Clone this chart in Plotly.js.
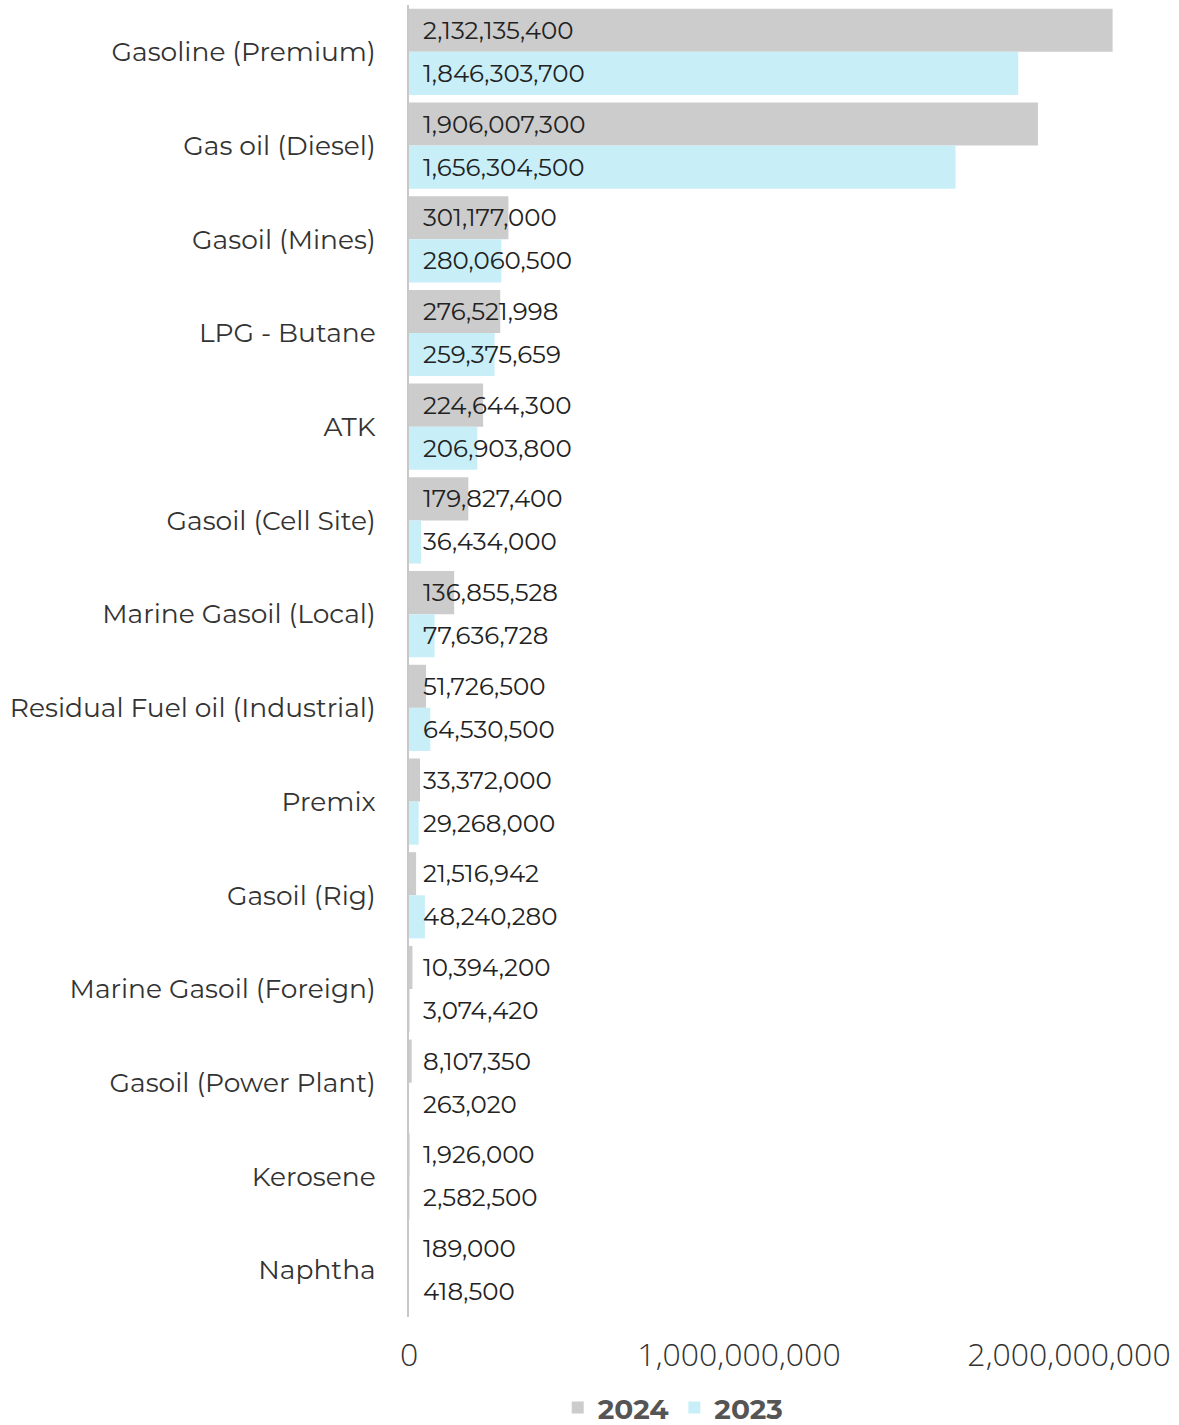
<!DOCTYPE html>
<html><head><meta charset="utf-8">
<script src="https://cdn.plot.ly/plotly-3.0.1.min.js"></script>
<style>html,body{margin:0;padding:0;background:#fff}#chart{width:1179px;height:1425px}</style>
</head><body><div id="chart"></div>
<script>
const categories = ["Gasoline (Premium)","Gas oil (Diesel)","Gasoil (Mines)","LPG - Butane","ATK","Gasoil (Cell Site)","Marine Gasoil (Local)","Residual Fuel oil (Industrial)","Premix","Gasoil (Rig)","Marine Gasoil (Foreign)","Gasoil (Power Plant)","Kerosene","Naphtha"];
const values2024 = [2132135400,1906007300,301177000,276521998,224644300,179827400,136855528,51726500,33372000,21516942,10394200,8107350,1926000,189000];
const values2023 = [1846303700,1656304500,280060500,259375659,206903800,36434000,77636728,64530500,29268000,48240280,3074420,263020,2582500,418500];
const tickVals = [0,1000000000,2000000000];
const tickText = ["0","1,000,000,000","2,000,000,000"];

const fmt = v => v.toLocaleString('en-US');
const FONT = "Montserrat, 'Noto Sans', 'Open Sans', sans-serif";

const traces = [
  {type:'bar', orientation:'h', name:'2024', y:categories, x:values2024, marker:{color:'#cccccc'}, hoverinfo:'x'},
  {type:'bar', orientation:'h', name:'2023', y:categories, x:values2023, marker:{color:'#c8eff8'}, hoverinfo:'x'}
];

const annotations = [];
categories.forEach((c,i)=>{
  annotations.push({x:0, y:c, xref:'x', yref:'y', text:fmt(values2024[i]), showarrow:false, xanchor:'left', yanchor:'middle', xshift:12, yshift:22, font:{family:FONT, size:24.5, color:'#222'}});
  annotations.push({x:0, y:c, xref:'x', yref:'y', text:fmt(values2023[i]), showarrow:false, xanchor:'left', yanchor:'middle', xshift:12, yshift:-21, font:{family:FONT, size:24.5, color:'#222'}});
});

const layout = {
  width:1179, height:1425,
  margin:{l:409, r:44, t:5, b:108},
  paper_bgcolor:'#fff', plot_bgcolor:'#fff',
  barmode:'group', bargap:0.08, bargroupgap:0,
  font:{family:FONT, color:'#333'},
  xaxis:{range:[0,2200000000], tickvals:tickVals, ticktext:tickText, showgrid:false, zeroline:false, showline:false, ticks:'', tickfont:{family:"'Open Sans', sans-serif", size:32, color:'#333', weight:300}, ticklabelstandoff:16},
  yaxis:{autorange:'reversed', showgrid:false, zeroline:false, showline:true, linecolor:'#c8c8c8', linewidth:2, ticks:'', tickfont:{family:FONT, size:26.5, color:'#333'}, ticklabelstandoff:26},
  showlegend:true,
  legend:{orientation:'h', xref:'container', yref:'container', x:0.571, xanchor:'center', y:0.012, yanchor:'middle', font:{family:FONT, size:28, color:'#555', weight:'bold'}, itemwidth:30, traceorder:'normal'},
  annotations:annotations
};
Plotly.newPlot('chart', traces, layout, {displayModeBar:false, staticPlot:true});
</script></body></html>
